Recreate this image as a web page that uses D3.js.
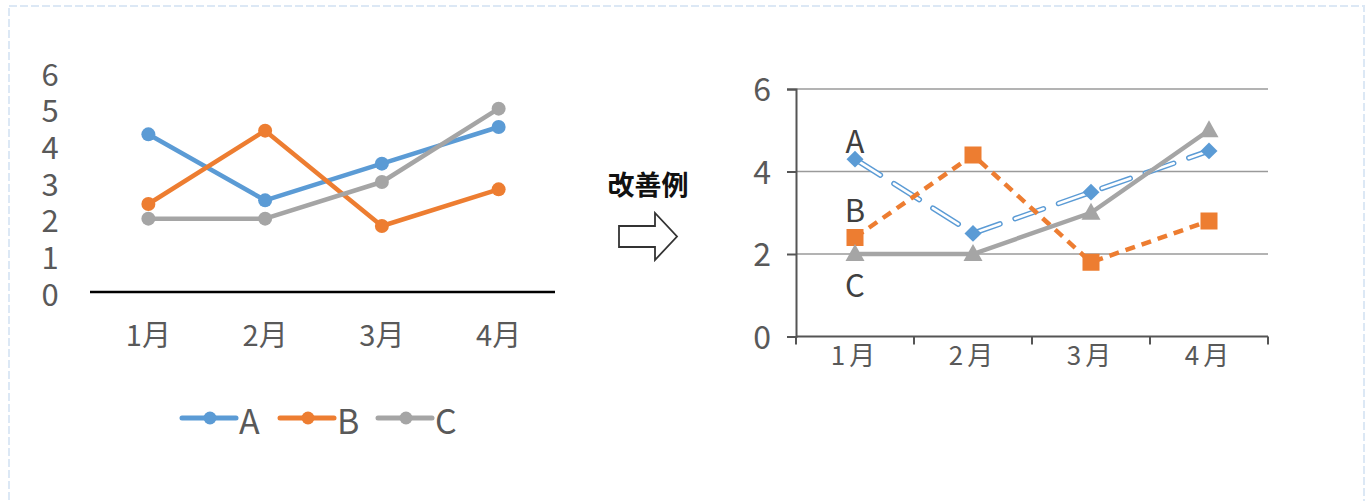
<!DOCTYPE html>
<html>
<head>
<meta charset="utf-8">
<script src="https://cdn.jsdelivr.net/npm/d3@7"></script>
<style>
  html, body { margin: 0; padding: 0; background: #ffffff; }
  svg { display: block; }
  text { font-family: "Noto Sans CJK JP", "Noto Sans", sans-serif; }
</style>
</head>
<body>
<svg id="chart" width="1372" height="501"></svg>
<script>
// ---- data ----
const categories = ["1月", "2月", "3月", "4月"];
const seriesNames = ["A", "B", "C"];
const valuesA = [4.3, 2.5, 3.5, 4.5];
const valuesB = [2.4, 4.4, 1.8, 2.8];
const valuesC = [2, 2, 3, 5];
const leftTicks = [0, 1, 2, 3, 4, 5, 6];
const rightTicks = [0, 2, 4, 6];
const noteLabel = "改善例";

const colors = { A: "#5b9bd5", B: "#ed7d31", C: "#a5a5a5" };
const series = [
  { name: "A", values: valuesA },
  { name: "B", values: valuesB },
  { name: "C", values: valuesC }
];

const svg = d3.select("#chart");

// ---- dashed frame ----
svg.append("rect")
  .attr("x", 9).attr("y", 6).attr("width", 1355).attr("height", 520)
  .attr("fill", "none").attr("stroke", "#dce8f5").attr("stroke-width", 2)
  .attr("stroke-dasharray", "8,3");

// ================= LEFT CHART =================
const xL = d3.scaleBand().domain(categories).range([90, 557]);
const yL = d3.scaleLinear().domain([0, 6]).range([292, 72]);
const cxL = c => xL(c) + xL.bandwidth() / 2;

const gL = svg.append("g");
// y labels (stacked, no axis line)
gL.selectAll("text.yl").data(leftTicks).join("text")
  .attr("class", "yl")
  .attr("x", 50).attr("y", d => yL(d))
  .attr("text-anchor", "middle").attr("dominant-baseline", "central")
  .attr("font-size", 31).attr("fill", "#595959")
  .text(d => d);
// baseline
gL.append("line")
  .attr("x1", 90).attr("x2", 555)
  .attr("y1", yL(0)).attr("y2", yL(0))
  .attr("stroke", "#000").attr("stroke-width", 2.5);
// x labels
gL.selectAll("text.xl").data(categories).join("text")
  .attr("class", "xl")
  .attr("x", d => cxL(d)).attr("y", 333)
  .attr("text-anchor", "middle").attr("dominant-baseline", "central")
  .attr("font-size", 29).attr("fill", "#595959")
  .text(d => d);

const lineL = d3.line().x((d, i) => cxL(categories[i])).y(d => yL(d));
series.forEach(s => {
  gL.append("path").attr("d", lineL(s.values))
    .attr("fill", "none").attr("stroke", colors[s.name])
    .attr("stroke-width", 4.5).attr("stroke-linejoin", "round");
  gL.selectAll(null).data(s.values).join("circle")
    .attr("cx", (d, i) => cxL(categories[i])).attr("cy", d => yL(d))
    .attr("r", 7).attr("fill", colors[s.name]);
});

// legend
const legendX = [182, 280, 378];
series.forEach((s, i) => {
  const x0 = legendX[i], y0 = 418;
  svg.append("line").attr("x1", x0).attr("x2", x0 + 54)
    .attr("y1", y0).attr("y2", y0)
    .attr("stroke", colors[s.name]).attr("stroke-width", 5).attr("stroke-linecap", "round");
  svg.append("circle").attr("cx", x0 + 28).attr("cy", y0).attr("r", 6.5).attr("fill", colors[s.name]);
  svg.append("text").attr("x", x0 + 57).attr("y", y0 + 1)
    .attr("dominant-baseline", "central")
    .attr("font-size", 34).attr("fill", "#595959").text(s.name);
});

// ================= MIDDLE NOTE =================
svg.append("text").attr("x", 648).attr("y", 183)
  .attr("text-anchor", "middle").attr("dominant-baseline", "central")
  .attr("font-size", 27).attr("font-weight", 700).attr("fill", "#111")
  .text(noteLabel);
svg.append("path")
  .attr("d", "M619,226 L655,226 L655,213 L677,236.5 L655,260 L655,247 L619,247 Z")
  .attr("fill", "#fff").attr("stroke", "#333").attr("stroke-width", 1.8)
  .attr("stroke-linejoin", "miter");

// ================= RIGHT CHART =================
const xR = d3.scaleBand().domain(categories).range([796, 1268]);
const yR = d3.scaleLinear().domain([0, 6]).range([336.5, 89]);
const cxR = c => xR(c) + xR.bandwidth() / 2;

const gR = svg.append("g");
// gridlines
gR.selectAll("line.grid").data(rightTicks.filter(d => d > 0)).join("line")
  .attr("class", "grid")
  .attr("x1", 796).attr("x2", 1268)
  .attr("y1", d => yR(d)).attr("y2", d => yR(d))
  .attr("stroke", "#9a9a9a").attr("stroke-width", 1.5);
// y axis
const yAxis = d3.axisLeft(yR).tickValues(rightTicks).tickSize(9).tickPadding(16).tickFormat(d3.format("d"));
const gy = gR.append("g").attr("transform", "translate(796,0)").call(yAxis);
gy.select(".domain").attr("stroke", "#555").attr("stroke-width", 2);
gy.selectAll(".tick line").attr("stroke", "#555").attr("stroke-width", 2);
gy.selectAll(".tick text").attr("font-size", 32).attr("fill", "#595959")
  .attr("font-family", "'Noto Sans CJK JP', sans-serif").attr("dy", "0.36em");

// x axis
const xAxis = d3.axisBottom(xR).tickSize(0).tickPadding(10);
const gx = gR.append("g").attr("transform", `translate(0,${yR(0)})`).call(xAxis);
gx.select(".domain").remove();
gx.append("line").attr("x1", 796).attr("x2", 1268).attr("y1", 0).attr("y2", 0)
  .attr("stroke", "#555").attr("stroke-width", 2);
const bounds = categories.map(c => xR(c)).concat([xR(categories[categories.length - 1]) + xR.bandwidth()]);
gx.selectAll("line.xt").data(bounds).join("line").attr("class", "xt")
  .attr("x1", d => d).attr("x2", d => d).attr("y1", 0).attr("y2", 8)
  .attr("stroke", "#555").attr("stroke-width", 2);
gx.selectAll(".tick text").attr("font-size", 26).attr("fill", "#595959")
  .attr("letter-spacing", "4px")
  .attr("font-family", "'Noto Sans CJK JP', sans-serif");

const lineR = d3.line().x((d, i) => cxR(categories[i])).y(d => yR(d));

// A: double line, long dashes, diamond markers
gR.append("path").attr("d", lineR(valuesA))
  .attr("fill", "none").attr("stroke", colors.A).attr("stroke-width", 5.5)
  .attr("stroke-dasharray", "30,16").attr("stroke-linecap", "round").attr("stroke-linejoin", "round");
gR.append("path").attr("d", lineR(valuesA))
  .attr("fill", "none").attr("stroke", "#fff").attr("stroke-width", 2.6)
  .attr("stroke-dasharray", "30,16").attr("stroke-linecap", "round").attr("stroke-linejoin", "round");
gR.selectAll(null).data(valuesA).join("path")
  .attr("transform", (d, i) => `translate(${cxR(categories[i])},${yR(d)}) rotate(45)`)
  .attr("d", "M-6,-6 L6,-6 L6,6 L-6,6 Z")
  .attr("fill", colors.A);

// B: dashed orange, square markers
gR.append("path").attr("d", lineR(valuesB))
  .attr("fill", "none").attr("stroke", colors.B).attr("stroke-width", 4.5)
  .attr("stroke-dasharray", "10,7").attr("stroke-linejoin", "round");
gR.selectAll(null).data(valuesB).join("rect")
  .attr("x", (d, i) => cxR(categories[i]) - 8.5).attr("y", d => yR(d) - 8.5)
  .attr("width", 17).attr("height", 17)
  .attr("fill", colors.B);

// C: solid gray, triangle markers
gR.append("path").attr("d", lineR(valuesC))
  .attr("fill", "none").attr("stroke", colors.C).attr("stroke-width", 4.5)
  .attr("stroke-linejoin", "round");
gR.selectAll(null).data(valuesC).join("path")
  .attr("transform", (d, i) => `translate(${cxR(categories[i])},${yR(d)})`)
  .attr("d", "M0,-10 L9.5,7 L-9.5,7 Z")
  .attr("fill", colors.C);

// series labels near first point
const labelOffsets = { A: -20, B: -29, C: 29 };
series.forEach(s => {
  gR.append("text")
    .attr("x", cxR(categories[0])).attr("y", yR(s.values[0]) + labelOffsets[s.name])
    .attr("text-anchor", "middle").attr("dominant-baseline", "central")
    .attr("font-size", 31).attr("fill", "#404040")
    .text(s.name);
});
</script>
</body>
</html>
